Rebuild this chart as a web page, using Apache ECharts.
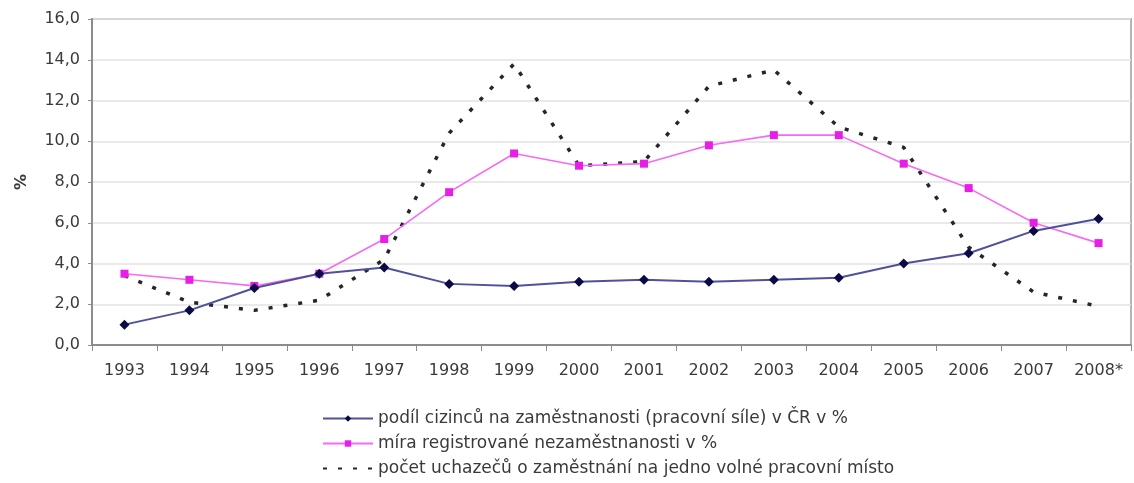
<!DOCTYPE html>
<html>
<head>
<meta charset="utf-8">
<script src="https://cdn.jsdelivr.net/npm/echarts@6/dist/echarts.min.js"></script>
<style>
  html, body { margin: 0; padding: 0; background: #fff; }
  #chart { width: 1134px; height: 483px; }
</style>
</head>
<body>
<div id="chart"></div>
<script>
// Years on the category axis
const years = ['1993', '1994', '1995', '1996', '1997', '1998', '1999', '2000',
               '2001', '2002', '2003', '2004', '2005', '2006', '2007', '2008*'];

// Share of foreigners in employment (labour force) in the Czech Republic, %
const foreignShare = [1.0, 1.7, 2.8, 3.5, 3.8, 3.0, 2.9, 3.1, 3.2, 3.1, 3.2, 3.3, 4.0, 4.5, 5.6, 6.2];

// Registered unemployment rate, %
const unemploymentRate = [3.5, 3.2, 2.9, 3.5, 5.2, 7.5, 9.4, 8.8, 8.9, 9.8, 10.3, 10.3, 8.9, 7.7, 6.0, 5.0];

// Job seekers per one vacancy
const seekersPerVacancy = [3.4, 2.1, 1.7, 2.2, 4.2, 10.4, 13.8, 8.8, 9.0, 12.7, 13.5, 10.7, 9.7, 4.8, 2.6, 1.9];

const seriesNames = [
  'podíl cizinců na zaměstnanosti (pracovní síle) v ČR v %',
  'míra registrované nezaměstnanosti v %',
  'počet uchazečů o zaměstnání na jedno volné pracovní místo'
];

const font = 'Verdana, "DejaVu Sans", sans-serif';
const textColor = '#3a3a3a';
const chart = echarts.init(document.getElementById('chart'));

chart.setOption({
  animation: false,
  backgroundColor: '#ffffff',
  grid: {
    left: 92, right: 3, top: 19, bottom: 138,
    show: true, borderColor: '#b4b4b4', borderWidth: 2
  },
  legend: {
    orient: 'vertical',
    left: 322, top: 410,
    padding: 0,
    height: 73,
    itemWidth: 50, itemHeight: 8, itemGap: 8,
    textStyle: { fontFamily: font, fontSize: 17, lineHeight: 17, color: textColor },
    data: [
      { name: seriesNames[0] },
      { name: seriesNames[1] },
      { name: seriesNames[2], itemStyle: { opacity: 0 } }
    ]
  },
  xAxis: {
    type: 'category',
    data: years,
    boundaryGap: true,
    axisLine: { lineStyle: { color: '#8c8c8c', width: 2 } },
    axisTick: { show: true, length: 6, lineStyle: { color: '#8c8c8c' } },
    axisLabel: { fontFamily: font, fontSize: 16, color: textColor, margin: 18 },
    splitLine: { show: false }
  },
  yAxis: {
    type: 'value',
    min: 0, max: 16, interval: 2,
    name: '%',
    nameLocation: 'middle',
    nameGap: 62,
    nameRotate: 90,
    nameTextStyle: { fontFamily: font, fontSize: 16, color: textColor, fontWeight: 'bold' },
    axisLine: { show: true, lineStyle: { color: '#8c8c8c', width: 2 } },
    axisTick: { show: true, length: 4, lineStyle: { color: '#8c8c8c' } },
    axisLabel: {
      fontFamily: font, fontSize: 16, color: textColor, margin: 12,
      formatter: v => v.toFixed(1).replace('.', ',')
    },
    splitLine: { lineStyle: { color: '#e2e2e2', width: 1.5 } }
  },
  series: [
    {
      name: seriesNames[0],
      type: 'line',
      data: foreignShare,
      symbol: 'diamond',
      symbolSize: 10,
      lineStyle: { color: '#50509c', width: 2 },
      itemStyle: { color: '#0a0a45' },
      z: 3
    },
    {
      name: seriesNames[1],
      type: 'line',
      data: unemploymentRate,
      symbol: 'rect',
      symbolSize: 8,
      lineStyle: { color: '#f46af4', width: 1.6 },
      itemStyle: { color: '#e61ee6' },
      z: 2
    },
    {
      name: seriesNames[2],
      type: 'line',
      data: seekersPerVacancy,
      symbol: 'none',
      lineStyle: { color: '#262626', width: 3.5, type: [4, 11] },
      itemStyle: { color: '#262626' },
      z: 1
    }
  ]
});
</script>
</body>
</html>
